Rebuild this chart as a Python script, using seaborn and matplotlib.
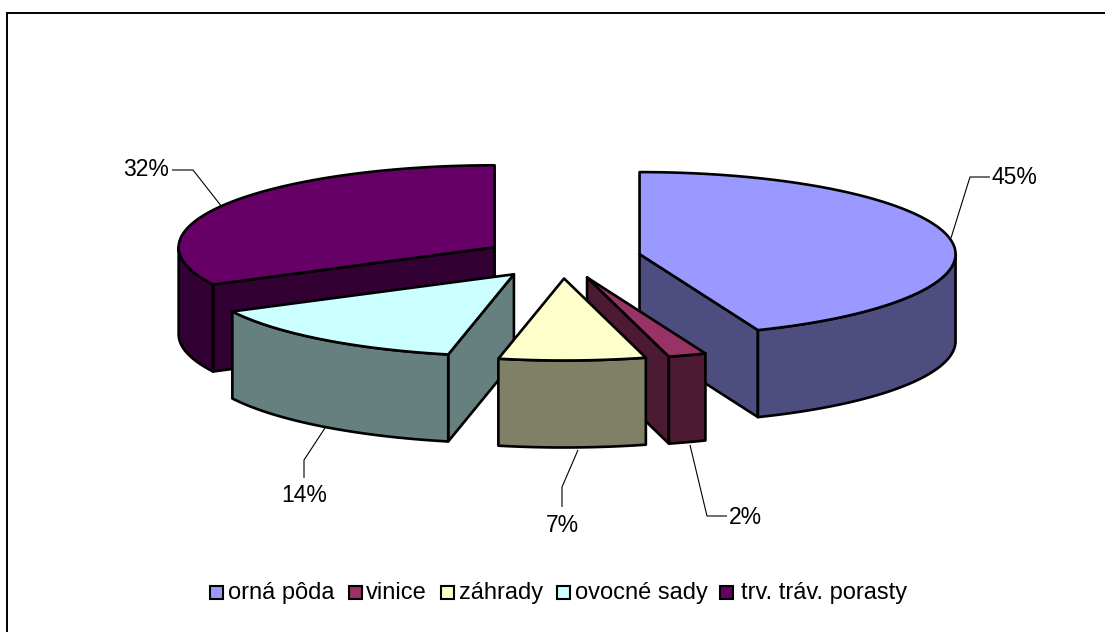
import numpy as np
import matplotlib
matplotlib.use("Agg")
import matplotlib.pyplot as plt
from matplotlib.patches import Polygon, Rectangle
import seaborn as sns

# Data
categories = ["orná pôda", "vinice", "záhrady", "ovocné sady", "trv. tráv. porasty"]
shares = [45, 2, 7, 14, 32]
colors = ["#9999FF", "#993366", "#FFFFCC", "#CCFFFF", "#660066"]
label_text = [f"{v}%" for v in shares]

sns.set_theme(style="white")
plt.rcParams["font.family"] = ["Liberation Sans", "DejaVu Sans"]

W, H = 1105, 632
fig = plt.figure(figsize=(W / 100, H / 100), dpi=100)
ax = fig.add_axes([0, 0, 1, 1])
ax.set_xlim(0, W)
ax.set_ylim(H, 0)
ax.axis("off")

# Pie geometry (pixel space)
CX, CY = 562, 258
RX, RY = 316, 82
DEPTH = 87
EXPLODE = 0.25
LW = 1.9

# The tilted 3-D view bends angles a little: true angle -> angle on the drawn ellipse
VIEW_IN = np.radians([0, 162, 169.2, 194.4, 244.8, 360])
VIEW_OUT = np.radians([0, 158, 165, 192, 243, 360])


def view(t):
    return np.interp(t, VIEW_IN, VIEW_OUT)


edges = view(np.concatenate([[0], np.cumsum(shares)]) / np.sum(shares) * 2 * np.pi)


def darken(c):
    return tuple(0.5 * x for x in matplotlib.colors.to_rgb(c))


def point(cx, cy, t):
    return cx + RX * np.sin(t), cy - RY * np.cos(t)


# back slices first
for i in [4, 0, 1, 3, 2]:
    t0, t1 = edges[i], edges[i + 1]
    mid = (t0 + t1) / 2
    cx = CX + EXPLODE * RX * np.sin(mid)
    cy = CY - EXPLODE * RY * np.cos(mid)
    side = darken(colors[i])
    kw = dict(ec="black", lw=LW, joinstyle="round")

    # cut walls, when they face the viewer
    for t, normal in ((t0, t0 - np.pi / 2), (t1, t1 + np.pi / 2)):
        if np.cos(normal) < -1e-6:
            px, py = point(cx, cy, t)
            ax.add_patch(Polygon([(cx, cy), (px, py), (px, py + DEPTH), (cx, cy + DEPTH)],
                                 fc=side, **kw))
    # outer rim (front half only)
    a0, a1 = max(t0, np.pi / 2), min(t1, 3 * np.pi / 2)
    if a1 > a0:
        ts = np.linspace(a0, a1, 80)
        xs, ys = point(cx, cy, ts)
        ax.add_patch(Polygon(np.r_[np.c_[xs, ys], np.c_[xs[::-1], ys[::-1] + DEPTH]],
                             fc=side, **kw))
    # top face
    ts = np.linspace(t0, t1, 160)
    xs, ys = point(cx, cy, ts)
    ax.add_patch(Polygon(np.r_[[(cx, cy)], np.c_[xs, ys]], fc=colors[i], **kw))

# Leader lines and data labels
leaders = [
    [(951, 238), (970, 177), (990, 177)],
    [(690, 445), (707, 516), (727, 516)],
    [(578, 450), (562, 487), (562, 507)],
    [(325, 428), (304, 460), (304, 478)],
    [(222, 207), (193, 170), (172, 170)],
]
label_pos = [(1014, 178), (745, 517), (562, 526), (304, 496), (146, 170)]
for pts, (tx, ty), s in zip(leaders, label_pos, label_text):
    ax.plot(*zip(*pts), color="black", lw=0.8, solid_capstyle="butt")
    ax.text(tx, ty, s, ha="center", va="center", fontsize=16.5, color="black")

# Legend
box_x = [210, 349, 441, 557, 720]
text_x = [228, 366, 459, 575, 741]
for bx, tx, name, c in zip(box_x, text_x, categories, colors):
    ax.add_patch(Rectangle((bx, 586), 13, 13, fc=c, ec="black", lw=1.5))
    ax.text(tx, 593, name, ha="left", va="center", fontsize=17, color="black")

# Chart frame
ax.plot([7, 7, 1105], [632, 13, 13], color="black", lw=1.4, solid_joinstyle="miter")

fig.savefig("out.png", dpi=100)
